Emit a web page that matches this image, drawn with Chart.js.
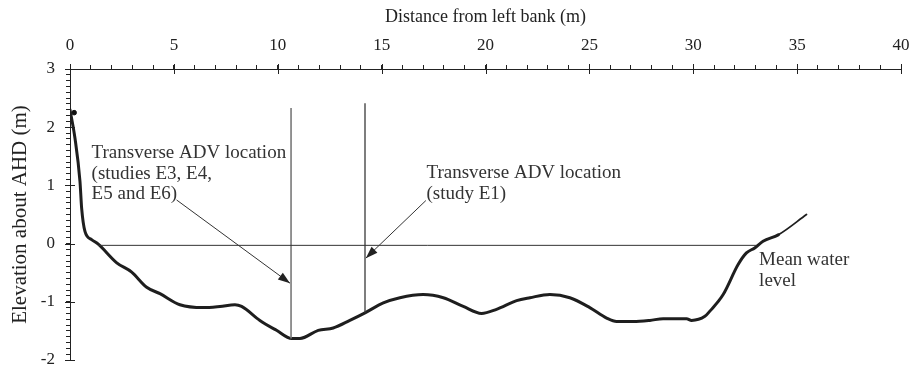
<!DOCTYPE html>
<html>
<head>
<meta charset="utf-8">
<title>Cross-section profile</title>
<script src="https://cdn.jsdelivr.net/npm/chart.js@4/dist/chart.umd.min.js"></script>
<style>
  html, body { margin: 0; padding: 0; background: #fff; }
  canvas { display: block; }
</style>
</head>
<body>
<canvas id="c" width="914" height="370"></canvas>
<script>
// Surveyed bed profile across the channel
const distance = [0, 0.24, 0.48, 0.56, 0.72, 1.04, 1.36, 2.25, 2.97, 3.69, 4.33, 5.29, 6.42, 7.22, 7.94, 8.26,
  9.14, 9.94, 10.67, 11.07, 11.95, 12.67, 13.47, 14.2, 15.08, 15.88, 17.0, 17.97, 18.93, 19.81, 20.53,
  21.5, 22.14, 23.1, 24.06, 25.02, 25.83, 26.31, 27.11, 27.91, 28.55, 29.68, 29.92, 30.56, 30.8, 31.44,
  32.16, 32.56, 32.96, 33.36, 34.09, 35.45];
const elevation = [2.30, 1.81, 1.07, 0.61, 0.21, 0.07, -0.01, -0.33, -0.49, -0.75, -0.86, -1.05, -1.10, -1.08, -1.05, -1.08,
  -1.32, -1.49, -1.63, -1.63, -1.49, -1.45, -1.32, -1.19, -1.02, -0.93, -0.875, -0.93, -1.08, -1.20, -1.13,
  -0.98, -0.93, -0.875, -0.93, -1.10, -1.28, -1.34, -1.34, -1.32, -1.29, -1.29, -1.32, -1.25, -1.16, -0.875,
  -0.36, -0.16, -0.075, 0.04, 0.15, 0.50];

// Isolated survey mark on the left bank
const bankMarkX = [0.2];
const bankMarkY = [2.25];

// Mean water level and its extent between the banks
const meanWaterLevel = -0.03;
const waterExtent = [1.36, 33.03];

// Transverse ADV locations: E3-E6 and E1
const advX = [10.64, 14.2];
const advTop = [2.33, 2.41];
const advBottom = [-1.63, -1.19];

// Leader arrows (tail -> head)
const arrowTailX = [5.13, 17.13];
const arrowTailY = [0.75, 0.74];
const arrowHeadX = [10.59, 14.24];
const arrowHeadY = [-0.68, -0.25];

// Axis tick labels
const xTickLabels = [0, 5, 10, 15, 20, 25, 30, 35, 40];
const yTickLabels = [3, 2, 1, 0, -1, -2];

const SERIF = '"Liberation Serif", "Times New Roman", serif';
const INK = '#222';

const profile = distance.map((x, i) => ({ x, y: elevation[i] }));
const lastSeg = profile.length - 2;

const datasets = [
  {
    label: 'Mean water level',
    data: waterExtent.map(x => ({ x, y: meanWaterLevel })),
    borderColor: '#333', borderWidth: 1, pointRadius: 0, showLine: true
  },
  {
    label: 'ADV E3-E6',
    data: [{ x: advX[0], y: advTop[0] }, { x: advX[0], y: advBottom[0] }],
    borderColor: '#7a7a7a', borderWidth: 1.6, pointRadius: 0, showLine: true
  },
  {
    label: 'ADV E1',
    data: [{ x: advX[1], y: advTop[1] }, { x: advX[1], y: advBottom[1] }],
    borderColor: '#3a3a3a', borderWidth: 1.3, pointRadius: 0, showLine: true
  },
  ...arrowTailX.map((tx, i) => ({
    label: 'arrow' + i,
    arrow: true,
    data: [{ x: tx, y: arrowTailY[i] }, { x: arrowHeadX[i], y: arrowHeadY[i] }],
    borderColor: '#333', borderWidth: 1, pointRadius: 0, showLine: true
  })),
  {
    label: 'Bed profile',
    data: profile,
    borderColor: '#1e1e1e', borderWidth: 3, pointRadius: 0, showLine: true,
    cubicInterpolationMode: 'monotone',
    borderJoinStyle: 'round', borderCapStyle: 'round',
    segment: { borderWidth: ctx => ctx.p0DataIndex >= lastSeg ? 1.8 : 3 }
  },
  {
    label: 'Bank mark',
    data: bankMarkX.map((x, i) => ({ x, y: bankMarkY[i] })),
    backgroundColor: '#111', borderColor: '#111', pointRadius: 2.3, showLine: false
  }
];

// Text notes placed in data coordinates
const notes = [
  { x: 1.04, y: 1.55, lines: ['Transverse ADV location', '(studies E3, E4,', 'E5 and E6)'] },
  { x: 17.16, y: 1.21, lines: ['Transverse ADV location', '(study E1)'] },
  { x: 33.17, y: -0.29, lines: ['Mean water', 'level'] }
];

const isMember = (v, list) => list.some(t => Math.abs(t - v) < 1e-6);

const decorations = {
  id: 'decorations',
  afterDatasetsDraw(chart) {
    const ctx = chart.ctx;
    const xs = chart.scales.x, ys = chart.scales.y;
    ctx.save();
    // arrowheads at the end of each leader
    chart.data.datasets.forEach((ds, di) => {
      if (!ds.arrow) return;
      const pts = chart.getDatasetMeta(di).data;
      const a = pts[0], b = pts[1];
      const ang = Math.atan2(b.y - a.y, b.x - a.x);
      const L = 12, W = 4.2;
      ctx.beginPath();
      ctx.moveTo(b.x, b.y);
      ctx.lineTo(b.x - L * Math.cos(ang) + W * Math.sin(ang), b.y - L * Math.sin(ang) - W * Math.cos(ang));
      ctx.lineTo(b.x - L * Math.cos(ang) - W * Math.sin(ang), b.y - L * Math.sin(ang) + W * Math.cos(ang));
      ctx.closePath();
      ctx.fillStyle = '#222';
      ctx.fill();
    });
    // notes
    ctx.fillStyle = '#333';
    ctx.font = '19px ' + SERIF;
    ctx.textAlign = 'left';
    ctx.textBaseline = 'middle';
    notes.forEach(n => {
      const px = xs.getPixelForValue(n.x), py = ys.getPixelForValue(n.y);
      n.lines.forEach((t, k) => ctx.fillText(t, px, py + k * 20.5));
    });
    ctx.restore();
  },
  afterDraw(chart) {
    // major ticks continue across the axis line into the plot
    const ctx = chart.ctx;
    const xs = chart.scales.x, ys = chart.scales.y;
    const area = chart.chartArea;
    ctx.save();
    ctx.strokeStyle = INK;
    ctx.lineWidth = 1;
    ctx.beginPath();
    xTickLabels.forEach(v => {
      const px = Math.round(xs.getPixelForValue(v)) + 0.5;
      ctx.moveTo(px, area.top - 5);
      ctx.lineTo(px, area.top + 5);
    });
    yTickLabels.forEach(v => {
      const py = Math.round(ys.getPixelForValue(v)) + 0.5;
      ctx.moveTo(area.left - 5, py);
      ctx.lineTo(area.left + 5, py);
    });
    ctx.stroke();
    ctx.restore();
  }
};

new Chart(document.getElementById('c'), {
  type: 'scatter',
  data: { datasets },
  options: {
    responsive: false,
    devicePixelRatio: 1,
    animation: false,
    layout: { padding: { left: 0, top: 0, right: 13, bottom: 10 } },
    plugins: { legend: { display: false }, tooltip: { enabled: false } },
    scales: {
      x: {
        type: 'linear', position: 'top', min: 0, max: 40,
        ticks: {
          stepSize: 1, autoSkip: false, maxRotation: 0,
          callback: v => isMember(v, xTickLabels) ? String(Math.round(v)) : '',
          font: { family: SERIF, size: 17 }, color: INK, padding: 9
        },
        grid: { drawOnChartArea: false, drawTicks: true, tickLength: 4, color: INK },
        border: { display: true, color: INK, width: 1 },
        title: {
          display: true, text: 'Distance from left bank (m)',
          font: { family: SERIF, size: 18 }, color: INK, padding: { top: 6, bottom: 0 }
        },
        afterFit(s) { s.height = 69; s.paddingLeft = 0; s.paddingRight = 0; }
      },
      y: {
        type: 'linear', position: 'left', min: -2, max: 3,
        ticks: {
          stepSize: 0.1, autoSkip: false,
          callback: v => isMember(v, yTickLabels) ? String(Math.round(v)) : '',
          font: { family: SERIF, size: 17 }, color: INK, padding: 11
        },
        grid: { drawOnChartArea: false, drawTicks: true, tickLength: 4, color: INK },
        border: { display: true, color: INK, width: 1 },
        title: {
          display: true, text: 'Elevation about AHD (m)',
          font: { family: SERIF, size: 21 }, color: INK, padding: { top: 8, bottom: 0 }
        },
        afterFit(s) { s.width = 70; s.paddingTop = 0; s.paddingBottom = 0; }
      }
    }
  },
  plugins: [decorations]
});
</script>
</body>
</html>
